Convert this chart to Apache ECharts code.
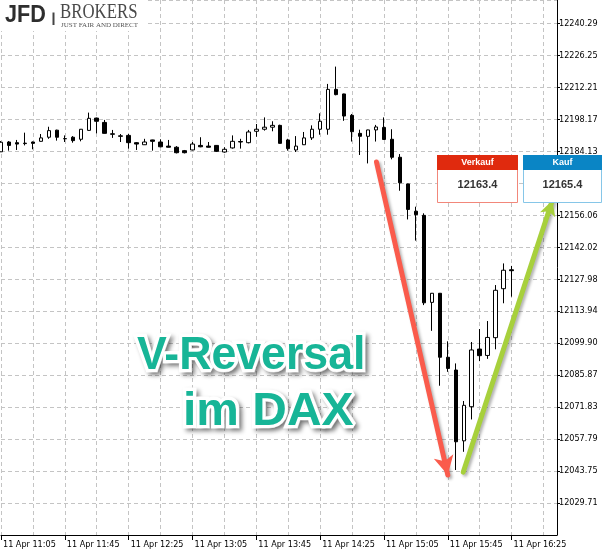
<!DOCTYPE html>
<html><head><meta charset="utf-8">
<script src="https://cdn.jsdelivr.net/npm/echarts@6/dist/echarts.min.js"></script>
<style>html,body{margin:0;padding:0;background:#fff}#c{width:603px;height:556px}</style>
</head><body><div id="c"></div>
<script>
const dateLabel = '11 Apr';
const times = ['11:05','11:10','11:15','11:20','11:25','11:30','11:35','11:40','11:45','11:50','11:55','12:00','12:05','12:10','12:15','12:20','12:25','12:30','12:35','12:40','12:45','12:50','12:55','13:00','13:05','13:10','13:15','13:20','13:25','13:30','13:35','13:40','13:45','13:50','13:55','14:00','14:05','14:10','14:15','14:20','14:25','14:30','14:35','14:40','14:45','14:50','14:55','15:00','15:05','15:10','15:15','15:20','15:25','15:30','15:35','15:40','15:45','15:50','15:55','16:00','16:05','16:10','16:15','16:20','16:25'];
const opens  = [12183.9,12188.2,12187.9,12187.7,12188.2,12188.5,12190.3,12193.4,12189.6,12190.3,12189.4,12193.3,12198.7,12196.8,12191.8,12190.9,12191.1,12187.9,12187.0,12189.1,12188.2,12186.4,12185.9,12184.4,12184.7,12186.7,12186.4,12186.7,12183.8,12185.6,12188.4,12187.9,12192.9,12193.8,12194.7,12195.5,12189.1,12184.7,12187.0,12190.0,12193.8,12193.8,12211.3,12209.3,12199.9,12192.0,12190.7,12193.5,12194.6,12189.4,12181.5,12169.8,12157.8,12156.0,12117.8,12121.8,12093.7,12088.1,12057.0,12072.0,12097.3,12094.5,12102.3,12123.8,12132.1];
const closes = [12188.1,12186.7,12187.3,12187.5,12187.6,12190.0,12193.2,12190.3,12189.7,12188.8,12193.8,12198.6,12197.3,12192.0,12191.6,12190.7,12187.9,12187.3,12188.2,12188.5,12186.1,12185.9,12183.5,12183.5,12187.3,12186.1,12185.9,12184.1,12185.0,12188.5,12188.2,12192.6,12193.8,12194.7,12195.5,12187.6,12185.3,12186.4,12190.0,12193.8,12197.3,12211.3,12209.0,12199.6,12192.7,12190.7,12193.5,12194.8,12189.3,12181.5,12170.3,12158.6,12156.3,12117.6,12121.8,12093.7,12088.8,12056.6,12072.6,12096.9,12094.4,12102.4,12123.1,12131.9,12131.7];
const lows   = [12183.8,12184.4,12184.7,12186.7,12185.0,12188.4,12189.6,12188.8,12188.2,12187.9,12188.5,12193.2,12192.0,12191.9,12190.0,12188.2,12185.3,12184.7,12186.9,12184.4,12185.9,12185.8,12183.2,12183.2,12184.6,12185.9,12185.8,12183.8,12183.5,12185.3,12185.3,12187.6,12190.5,12193.2,12192.9,12187.5,12184.4,12183.8,12186.9,12189.1,12191.4,12191.4,12208.7,12197.5,12188.4,12182.5,12178.8,12188.4,12189.1,12180.6,12166.8,12154.2,12144.9,12116.6,12105.3,12081.2,12087.3,12044.2,12052.2,12066.4,12092.0,12093.0,12097.2,12117.4,12120.3];
const highs  = [12188.6,12188.6,12189.1,12192.3,12188.4,12191.7,12194.9,12193.6,12191.1,12190.8,12193.9,12201.1,12198.9,12197.9,12193.5,12191.7,12191.7,12188.2,12189.6,12189.2,12189.4,12189.1,12186.4,12184.7,12188.2,12190.3,12188.2,12186.8,12185.9,12191.1,12189.6,12193.5,12196.1,12199.0,12197.3,12195.8,12189.6,12190.8,12192.6,12195.5,12200.8,12213.7,12221.3,12209.4,12200.5,12193.6,12193.6,12195.7,12199.0,12193.8,12182.9,12169.9,12159.8,12156.9,12121.9,12121.9,12100.7,12091.0,12074.5,12100.4,12106.1,12109.6,12125.4,12134.9,12133.8];
const yTicks = [12029.71,12043.75,12057.79,12071.83,12085.87,12099.90,12113.94,12127.98,12142.02,12156.06,12170.10,12184.13,12198.17,12212.21,12226.25,12240.29];
const verkaufPrice = '12163.4';
const kaufPrice = '12165.4';
const titleLines = ['V-Reversal', 'im DAX'];
// arrows in data space: [index, price]
const redArrow = [[47.06, 12179.4], [56.0, 12042.0]];
const greenArrow = [[57.94, 12043.3], [69.1, 12162.5]];

const yStep = (yTicks[yTicks.length-1] - yTicks[0]) / (yTicks.length - 1);
const yMin = yTicks[0] - yStep;
const yMax = 12250.54;
const xMax = 557.5 / 8;

const candles = times.map((t, i) => [i, opens[i], closes[i], lows[i], highs[i]]);
const axisFont = '"DejaVu Sans Condensed", "Liberation Sans", sans-serif';
const teal = '#17b597';
const titleFont = 'bold 47px "Liberation Sans", Arial, sans-serif';
const gridLine = {show: true, lineStyle: {color: '#c4c4c4', type: [4, 3], width: 1}};

function titleLayers(text, x, y, sx) {
  return [
    {type: 'text', z: 103, x: x, y: y, scaleX: sx, style: {legacy: false, text: text, font: titleFont, fill: '#fff', stroke: '#fff', lineWidth: 7, lineJoin: 'round', align: 'left', verticalAlign: 'top',
      textShadowColor: 'rgba(0,0,0,0.4)', textShadowBlur: 4, textShadowOffsetX: 3, textShadowOffsetY: 3}},
    {type: 'text', z: 104, x: x, y: y, scaleX: sx, style: {legacy: false, text: text, font: titleFont, fill: '#fff', stroke: '#fff', lineWidth: 6, lineJoin: 'round', align: 'left', verticalAlign: 'top'}},
    {type: 'text', z: 105, x: x, y: y, scaleX: sx, style: {legacy: false, text: text, font: titleFont, fill: teal, align: 'left', verticalAlign: 'top'}}
  ];
}

const chart = echarts.init(document.getElementById('c'), null, {renderer: 'canvas'});
chart.setOption({
  animation: false,
  backgroundColor: '#fff',
  grid: {left: -0.5, right: 46, top: 0, bottom: 21, containLabel: false},
  xAxis: [{
    type: 'value', min: 0, max: xMax, interval: 8, position: 'bottom',
    axisLine: {show: true, onZero: false, lineStyle: {color: '#000', width: 1}},
    axisTick: {show: true, length: 5, lineStyle: {color: '#000'}},
    axisLabel: {show: true, align: 'left', margin: 5, padding: [0, 0, 0, 2], color: '#000', fontSize: 9, fontFamily: axisFont,
      showMaxLabel: false,
      formatter: v => (Math.abs(v - Math.round(v)) < 1e-6 && times[Math.round(v)] !== undefined) ? dateLabel + ' ' + times[Math.round(v)] : ''},
    splitLine: {show: false}
  }, {
    type: 'value', min: 0, max: xMax, interval: 4, position: 'top',
    axisLine: {show: false}, axisTick: {show: false}, axisLabel: {show: false},
    splitLine: gridLine
  }],
  yAxis: {
    type: 'value', position: 'right', min: yMin, max: yMax, interval: yStep, scale: true,
    axisLine: {show: true, onZero: false, lineStyle: {color: '#000', width: 1}},
    axisTick: {show: true, length: 3, lineStyle: {color: '#000'}},
    axisLabel: {show: true, margin: 2, color: '#000', fontSize: 9, fontFamily: axisFont,
      showMinLabel: false, showMaxLabel: false,
      formatter: v => { const i = Math.round((v - yMin) / yStep) - 1; return (i >= 0 && i < yTicks.length) ? yTicks[i].toFixed(2) : ''; }},
    splitLine: gridLine
  },
  series: [{
    type: 'candlestick',
    xAxisIndex: 0, yAxisIndex: 0,
    data: candles,
    encode: {x: 0, y: [1, 2, 3, 4]},
    barWidth: 4,
    itemStyle: {color: '#fff', color0: '#000', borderColor: '#000', borderColor0: '#000', borderWidth: 1},
    emphasis: {disabled: true},
    markLine: {
      silent: true, animation: false,
      symbol: ['none', 'arrow'],
      label: {show: false},
      emphasis: {disabled: true},
      data: [
        [{coord: redArrow[0], lineStyle: {color: '#fa5b4c', width: 5, type: 'solid', cap: 'round', shadowColor: 'rgba(0,0,0,0.3)', shadowBlur: 3, shadowOffsetX: 2, shadowOffsetY: 2}},
         {coord: redArrow[1], symbolSize: [15, 19]}],
        [{coord: greenArrow[0], lineStyle: {color: '#a7d03c', width: 5, type: 'solid', cap: 'round', shadowColor: 'rgba(0,0,0,0.3)', shadowBlur: 3, shadowOffsetX: 2, shadowOffsetY: 2}},
         {coord: greenArrow[1], symbolSize: [12, 15]}]
      ]
    }
  }],
  graphic: [
    // logo
    {type: 'rect', z: 100, shape: {x: 0, y: 0, width: 145, height: 31}, style: {fill: '#fff'}},
    {type: 'text', z: 101, x: 5, y: 3, scaleX: 0.9, style: {text: 'JFD', font: 'bold 24px "Liberation Sans", Arial, sans-serif', fill: '#2e2e2e', align: 'left', verticalAlign: 'top', textAlign: 'left', textVerticalAlign: 'top'}},
    {type: 'rect', z: 101, shape: {x: 52.5, y: 12.5, width: 2, height: 12.5}, style: {fill: '#444'}},
    {type: 'text', z: 101, x: 60, y: 3, scaleX: 0.84, style: {text: 'BROKERS', font: '20px "Liberation Serif", serif', fill: '#4a4a4a', align: 'left', verticalAlign: 'top', textAlign: 'left', textVerticalAlign: 'top'}},
    {type: 'text', z: 101, x: 61, y: 21.5, style: {text: 'JUST FAIR AND DIRECT', font: '7px "Liberation Serif", serif', fill: '#555', align: 'left', verticalAlign: 'top', textAlign: 'left', textVerticalAlign: 'top'}},
    // Verkauf box
    {type: 'rect', z: 100, shape: {x: 437.5, y: 155.5, width: 80, height: 47}, style: {fill: '#fff', stroke: '#f2877a', lineWidth: 1}},
    {type: 'rect', z: 101, shape: {x: 437, y: 155, width: 81, height: 15}, style: {fill: '#e02a0e'}},
    {type: 'text', z: 102, x: 477.5, y: 162.5, style: {text: 'Verkauf', font: 'bold 9px "Liberation Sans", Arial, sans-serif', fill: '#fff', align: 'center', verticalAlign: 'middle', textAlign: 'center', textVerticalAlign: 'middle'}},
    {type: 'text', z: 102, x: 477.5, y: 185, style: {text: verkaufPrice, font: 'bold 11px "Liberation Sans", Arial, sans-serif', fill: '#333', align: 'center', verticalAlign: 'middle', textAlign: 'center', textVerticalAlign: 'middle'}},
    // Kauf box
    {type: 'rect', z: 100, shape: {x: 523.5, y: 155.5, width: 78, height: 47}, style: {fill: '#fff', stroke: '#86c6e8', lineWidth: 1}},
    {type: 'rect', z: 101, shape: {x: 523, y: 155, width: 79, height: 15}, style: {fill: '#0a85c5'}},
    {type: 'text', z: 102, x: 562.5, y: 162.5, style: {text: 'Kauf', font: 'bold 9px "Liberation Sans", Arial, sans-serif', fill: '#fff', align: 'center', verticalAlign: 'middle', textAlign: 'center', textVerticalAlign: 'middle'}},
    {type: 'text', z: 102, x: 562.5, y: 185, style: {text: kaufPrice, font: 'bold 11px "Liberation Sans", Arial, sans-serif', fill: '#333', align: 'center', verticalAlign: 'middle', textAlign: 'center', textVerticalAlign: 'middle'}}
  ].concat(titleLayers(titleLines[0], 137, 333, 0.95), titleLayers(titleLines[1], 183, 389, 1.02))
});
</script>
</body></html>
